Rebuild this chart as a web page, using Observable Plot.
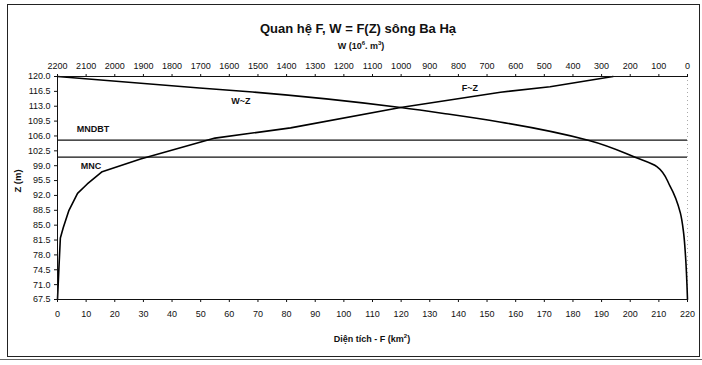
<!DOCTYPE html>
<html><head><meta charset="utf-8">
<script src="https://cdn.jsdelivr.net/npm/d3@7"></script>
<script src="https://cdn.jsdelivr.net/npm/@observablehq/plot@0.6"></script>
<style>
body{margin:0;background:#fff;font-family:"Liberation Sans",Arial,sans-serif;}
#wrap{position:relative;width:702px;height:365px;overflow:hidden;background:#fff;}
#box{position:absolute;left:7px;top:4px;width:691px;height:351px;border:1px solid #222;}
.t{position:absolute;white-space:nowrap;transform:translate(-50%,-50%);color:#111;}
sup{font-size:6px;line-height:0;vertical-align:4px;}
#chart{position:absolute;left:0;top:0;}
.deco{position:absolute;background:#333;}
</style></head><body>
<div id="wrap">
  <div id="box"></div>
  <div class="t" style="left:358px;top:28px;font-size:13px;font-weight:bold">Quan hệ F, W = F(Z) sông Ba Hạ</div>
  <div class="t" style="left:361px;top:46px;font-size:9px;font-weight:bold">W (10<sup>6</sup>. m<sup>3</sup>)</div>
  <div class="t" style="left:372px;top:339px;font-size:9px;font-weight:bold">Diện tích - F (km<sup>2</sup>)</div>
  <div class="t" style="left:17px;top:181px;font-size:9.5px;font-weight:bold;transform:translate(-50%,-50%) rotate(-90deg)">Z (m)</div>
  <div id="chart"></div>
  <div class="deco" style="left:0;top:359px;width:702px;height:1px;background:#666"></div>
</div>
<script>
// Tick values
const zTicks = [67.5,71,74.5,78,81.5,85,88.5,92,95.5,99,102.5,106,109.5,113,116.5,120];
const fTicks = [0,10,20,30,40,50,60,70,80,90,100,110,120,130,140,150,160,170,180,190,200,210,220];
const wTicks = [2200,2100,2000,1900,1800,1700,1600,1500,1400,1300,1200,1100,1000,900,800,700,600,500,400,300,200,100,0];

// F ~ Z curve (area km2 vs level m)
const fzF = [0, 0.5, 1, 2, 4, 7, 10.4, 15.6, 29, 55, 81.4, 119.8, 154.7, 172, 194];
const fzZ = [67.5, 75, 82, 84.4, 88.5, 92.5, 94.7, 97.6, 100.6, 105.5, 107.9, 112.7, 116.3, 117.6, 120];

// W ~ Z curve (volume 10^6 m3 vs level m)
const wzW = [0, 7, 13.6, 25, 61, 107, 183, 347, 656, 831, 1002, 1530, 1704, 2200];
const wzZ = [67.5, 77.8, 83.2, 87.9, 94.2, 98.8, 101, 105, 109.3, 111.1, 112.7, 116.4, 117.3, 120];

// Characteristic levels
const levelNames = ["MNDBT", "MNC"];
const levelZ = [105, 101];

const fz = fzF.map((f, i) => ({F: f, Z: fzZ[i]}));
const wz = wzW.map((w, i) => ({W: w, Z: wzZ[i]}));
const levels = levelNames.map((n, i) => ({name: n, Z: levelZ[i]}));
const wToX = w => 220 - w / 10;
const wPos = wTicks.map(wToX);

const chart = Plot.plot({
  width: 702, height: 365,
  marginLeft: 57, marginRight: 15, marginTop: 76, marginBottom: 66,
  style: {background: "transparent", fontFamily: "'Liberation Sans', Arial, sans-serif", fontSize: "9px", color: "#111"},
  x: {domain: [0, 220]},
  y: {domain: [67.5, 120]},
  marks: [
    Plot.ruleX([220], {stroke: "#aaa", strokeWidth: 1, strokeDasharray: "1,3"}),
    Plot.ruleY(levels, {y: "Z", stroke: "#111", strokeWidth: 1.2}),
    Plot.line(fz, {x: "F", y: "Z", stroke: "#000", strokeWidth: 1.6}),
    Plot.line(wz, {x: d => wToX(d.W), y: "Z", stroke: "#000", strokeWidth: 1.6, curve: "monotone-y"}),
    Plot.ruleX([0], {stroke: "#111", strokeWidth: 1}),
    Plot.ruleY([67.5], {stroke: "#111", strokeWidth: 1}),
    Plot.ruleY([120], {stroke: "#111", strokeWidth: 1}),
    Plot.axisY(zTicks, {tickSize: 3, tickPadding: 4, tickFormat: d => d.toFixed(1), label: null, fontSize: 9}),
    Plot.axisX(fTicks, {anchor: "bottom", tickSize: 3, tickPadding: 8, label: null, fontSize: 9, tickFormat: d => String(d)}),
    Plot.axisX(wPos, {anchor: "top", tickSize: 3, tickPadding: 5, label: null, fontSize: 9,
      tickFormat: d => String(wTicks[wPos.indexOf(d)])}),
    Plot.text(levels, {x: [12.4, 11.7], y: [107.6, 99.0], text: "name", fontWeight: "bold", fontSize: 9}),
    Plot.text(["W~Z"], {x: 64, y: 114.1, text: d => d, fontWeight: "bold", fontSize: 9}),
    Plot.text(["F~Z"], {x: 144, y: 117.2, text: d => d, fontWeight: "bold", fontSize: 9})
  ]
});
document.getElementById("chart").appendChild(chart);
</script>
</body></html>
